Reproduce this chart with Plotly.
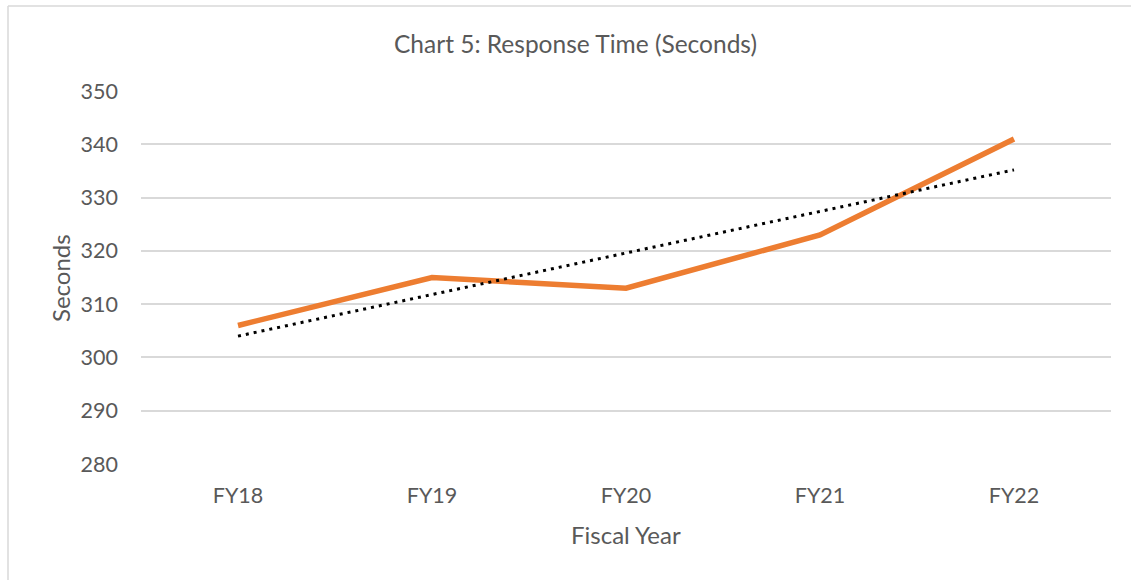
import numpy as np
import plotly.graph_objects as go

categories = ["FY18", "FY19", "FY20", "FY21", "FY22"]
response_seconds = [306, 315, 313, 323, 341]
y_ticks = [280, 290, 300, 310, 320, 330, 340, 350]

# Linear trendline (least squares), as in the original spreadsheet chart
idx = np.arange(len(categories))
slope, intercept = np.polyfit(idx, response_seconds, 1)
trend = slope * idx + intercept

FONT = "Lato"
GRAY = "#595959"

W, H = 1131, 580
L, R, T, B = 141, 20, 91, 116
pw, ph = W - L - R, H - T - B

def px_x(px):
    return (px - L) / pw

def px_y(py):
    return (H - B - py) / ph

fig = go.Figure()
fig.add_trace(go.Scatter(
    x=categories, y=response_seconds, mode="lines",
    line=dict(color="#ED7D31", width=5.5), name="Response Time",
))
fig.add_trace(go.Scatter(
    x=categories, y=trend, mode="lines",
    line=dict(color="#000000", width=3, dash="3px,5px"), name="Trend",
))

fig.update_layout(
    width=W, height=H,
    margin=dict(l=L, r=R, t=T, b=B),
    paper_bgcolor="white", plot_bgcolor="white",
    showlegend=False,
    font=dict(family=FONT, color=GRAY),
    xaxis=dict(
        type="category", range=[-0.5, 4.5],
        showgrid=False, showline=False, zeroline=False,
        ticks="", tickfont=dict(size=21.5, color=GRAY, family=FONT),
        ticklabelstandoff=16,
    ),
    yaxis=dict(
        range=[280, 350], tickvals=y_ticks,
        showgrid=True, gridcolor="#D9D9D9", gridwidth=1.5,
        showline=False, zeroline=False,
        ticks="", tickfont=dict(size=21.5, color=GRAY, family=FONT),
        ticklabelstandoff=22,
    ),
    annotations=[
        dict(text="Chart 5: Response Time (Seconds)", xref="paper", yref="paper",
             x=px_x(575), y=px_y(44), xanchor="center", yanchor="middle",
             showarrow=False, font=dict(size=24.5, color=GRAY, family=FONT)),
        dict(text="Fiscal Year", xref="paper", yref="paper",
             x=px_x(626), y=px_y(534), xanchor="center", yanchor="middle",
             showarrow=False, font=dict(size=24, color=GRAY, family=FONT)),
        dict(text="Seconds", xref="paper", yref="paper",
             x=px_x(60), y=px_y(278), xanchor="center", yanchor="middle",
             showarrow=False, textangle=-90,
             font=dict(size=24, color=GRAY, family=FONT)),
    ],
    shapes=[
        dict(type="line", xref="paper", yref="paper",
             x0=px_x(8), x1=px_x(1200), y0=px_y(6), y1=px_y(6),
             line=dict(color="#D9D9D9", width=1.5)),
        dict(type="line", xref="paper", yref="paper",
             x0=px_x(8), x1=px_x(8), y0=px_y(6), y1=px_y(700),
             line=dict(color="#D9D9D9", width=1.5)),
    ],
)

fig.write_html(
    "out.html",
    config={"displayModeBar": False},
    post_script="document.body.style.margin='0';document.body.style.overflow='hidden';",
)
